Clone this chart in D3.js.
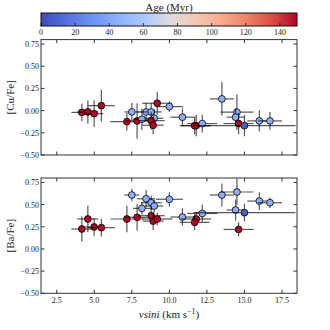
<!DOCTYPE html>
<html>
<head>
<meta charset="utf-8">
<script src="https://d3js.org/d3.v7.min.js"></script>
<style>
  body { margin: 0; background: #fff; }
  text { font-family: "Liberation Serif", "DejaVu Serif", serif; fill: #222; }
</style>
</head>
<body>
<div id="chart"></div>
<script>
// one entry per star, same order in every array
var vsini    = [4.17, 4.57, 4.99, 5.47, 7.17, 7.85, 7.5, 8.17, 8.45, 8.79, 8.99, 8.79, 8.92, 9.19, 10.0, 10.87, 11.79, 11.68, 12.19, 13.5, 14.5, 14.41, 14.61, 15.0, 15.99, 16.7];
var vsiniErr = [0.7, 0.7, 0.6, 0.9, 1.1, 0.8, 0.5, 0.6, 0.6, 0.7, 0.6, 0.9, 0.7, 1.0, 0.9, 0.8, 1.0, 1.0, 1.0, 0.8, 1.1, 0.6, 1.0, 3.4, 0.8, 0.8];
var ages     = [150, 150, 150, 150, 150, 150, 45, 45, 45, 45, 45, 150, 150, 150, 45, 45, 150, 150, 45, 45, 45, 45, 150, 8, 45, 45];
var cuFe     = [-0.02, -0.015, -0.034, 0.056, -0.124, -0.116, -0.015, -0.097, -0.015, -0.015, -0.086, -0.113, -0.165, 0.083, 0.045, -0.074, -0.169, -0.17, -0.146, 0.132, -0.018, -0.074, -0.146, -0.169, -0.116, -0.116];
var cuFeErr  = [0.10, 0.13, 0.15, 0.18, 0.10, 0.20, 0.10, 0.12, 0.10, 0.10, 0.10, 0.10, 0.10, 0.13, 0.06, 0.10, 0.12, 0.10, 0.10, 0.19, 0.20, 0.10, 0.12, 0.12, 0.12, 0.10];
var baFe     = [0.225, 0.338, 0.248, 0.24, 0.338, 0.357, 0.608, 0.458, 0.566, 0.521, 0.484, 0.375, 0.315, 0.338, 0.56, 0.36, 0.338, 0.30, 0.40, 0.608, 0.642, 0.439, 0.22, 0.409, 0.54, 0.521];
var baFeErr  = [0.14, 0.15, 0.10, 0.10, 0.15, 0.15, 0.07, 0.07, 0.10, 0.08, 0.07, 0.10, 0.10, 0.07, 0.08, 0.10, 0.08, 0.09, 0.10, 0.13, 0.15, 0.12, 0.08, 0.10, 0.10, 0.06];

var xTicks = [2.5, 5.0, 7.5, 10.0, 12.5, 15.0, 17.5];
var yTicks = [-0.50, -0.25, 0.00, 0.25, 0.50, 0.75];
var ageTicks = [0, 20, 40, 60, 80, 100, 120, 140];

var width = 330, height = 330;
var left = 41, right = 297;

var svg = d3.select('#chart').append('svg')
    .attr('width', width)
    .attr('height', height);

// matplotlib coolwarm, roughly
var coolwarm = d3.piecewise(d3.interpolateRgb, ['#3b4cc0', '#5470de', '#6f92f3', '#8db0fe', '#aac7fd', '#dddcdc', '#f2cbb7', '#f7ac8e', '#ee8468', '#d65244', '#b40426']);
var color = d3.scaleSequential(coolwarm).domain([0, 150]).clamp(true);

var x = d3.scaleLinear().domain([1.45, 18.5]).range([left, right]);

function minus(v, f) {
    return d3.format(f)(v).replace('-', '\u2212');
}

// colorbar
var cbTop = 13, cbBot = 26;
var grad = svg.append('defs').append('linearGradient').attr('id', 'cw');
d3.range(0, 1.0001, 0.05).forEach(function(t) {
    grad.append('stop').attr('offset', t).attr('stop-color', coolwarm(t));
});
var cx = d3.scaleLinear().domain([0, 150]).range([left, right]);
svg.append('rect')
    .attr('x', left).attr('y', cbTop)
    .attr('width', right - left).attr('height', cbBot - cbTop)
    .style('fill', 'url(#cw)')
    .style('stroke', '#111').style('stroke-width', 1);
svg.selectAll('.cbtick').data(ageTicks).enter().append('line')
    .attr('x1', function(d) { return cx(d); }).attr('x2', function(d) { return cx(d); })
    .attr('y1', cbBot).attr('y2', cbBot - 3)
    .style('stroke', '#111').style('stroke-width', 0.8);
svg.selectAll('.cblab').data(ageTicks).enter().append('text')
    .attr('x', function(d) { return cx(d); }).attr('y', cbBot + 9)
    .attr('text-anchor', 'middle').style('font-size', '8px')
    .text(function(d) { return d; });
svg.append('text').attr('x', (left + right) / 2).attr('y', 11)
    .attr('text-anchor', 'middle').style('font-size', '11px')
    .text('Age (Myr)');

function panel(top, bottom, vals, errs, label, showX) {
    var y = d3.scaleLinear().domain([-0.5, 0.8]).range([bottom, top]);
    var g = svg.append('g');

    // ticks inward on all four sides
    xTicks.forEach(function(t) {
        g.append('line').attr('x1', x(t)).attr('x2', x(t)).attr('y1', bottom).attr('y2', bottom - 3.5).style('stroke', '#333');
        g.append('line').attr('x1', x(t)).attr('x2', x(t)).attr('y1', top).attr('y2', top + 3.5).style('stroke', '#333');
        if (showX) {
            g.append('text').attr('x', x(t)).attr('y', bottom + 10)
                .attr('text-anchor', 'middle').style('font-size', '8px')
                .text(d3.format('.1f')(t));
        }
    });
    yTicks.forEach(function(t) {
        g.append('line').attr('x1', left).attr('x2', left + 3.5).attr('y1', y(t)).attr('y2', y(t)).style('stroke', '#333');
        g.append('line').attr('x1', right).attr('x2', right - 3.5).attr('y1', y(t)).attr('y2', y(t)).style('stroke', '#333');
        g.append('text').attr('x', left - 2).attr('y', y(t) + 3)
            .attr('text-anchor', 'end').style('font-size', '8px')
            .text(minus(t, '.2f'));
    });

    var clip = 'clip' + top;
    svg.append('clipPath').attr('id', clip).append('rect')
        .attr('x', left).attr('y', top).attr('width', right - left).attr('height', bottom - top);
    var pts = g.append('g').attr('clip-path', 'url(#' + clip + ')');

    vals.forEach(function(v, i) {
        var s = pts.append('g');
        s.append('line')
            .attr('x1', x(vsini[i] - vsiniErr[i])).attr('x2', x(vsini[i] + vsiniErr[i]))
            .attr('y1', y(v)).attr('y2', y(v));
        s.append('line')
            .attr('x1', x(vsini[i])).attr('x2', x(vsini[i]))
            .attr('y1', y(v - errs[i])).attr('y2', y(v + errs[i]));
        s.selectAll('line').style('stroke', '#000').style('stroke-width', 1.2).style('opacity', 0.65);
        s.append('circle')
            .attr('cx', x(vsini[i])).attr('cy', y(v)).attr('r', 3.4)
            .style('fill', color(ages[i]))
            .style('stroke', '#000').style('stroke-width', 0.8);
    });

    g.append('rect').attr('x', left).attr('y', top)
        .attr('width', right - left).attr('height', bottom - top)
        .style('fill', 'none').style('stroke', '#333').style('stroke-width', 1);

    svg.append('text')
        .attr('transform', 'translate(14,' + ((top + bottom) / 2) + ') rotate(-90)')
        .attr('text-anchor', 'middle').style('font-size', '11px')
        .text(label);
}

panel(39.6, 155, cuFe, cuFeErr, '[Cu/Fe]', false);
panel(178, 293.3, baFe, baFeErr, '[Ba/Fe]', true);

var xl = svg.append('text').attr('x', (left + right) / 2).attr('y', 318)
    .attr('text-anchor', 'middle').style('font-size', '11px');
xl.append('tspan').style('font-style', 'italic').text('vsini');
xl.append('tspan').text(' (km s');
xl.append('tspan').attr('dy', -4).style('font-size', '8px').text('\u22121');
xl.append('tspan').attr('dy', 4).text(')');
</script>
</body>
</html>
